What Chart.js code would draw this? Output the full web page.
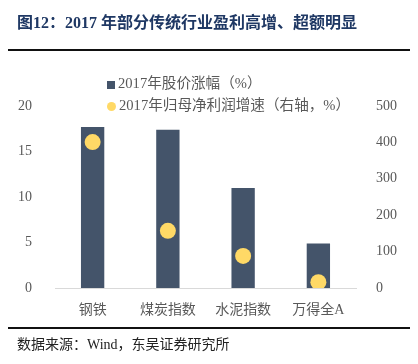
<!DOCTYPE html>
<html>
<head>
<meta charset="utf-8">
<script src="https://cdn.jsdelivr.net/npm/chart.js@4"></script>
<style>
  body { margin: 0; width: 418px; height: 364px; background: #fff; position: relative; overflow: hidden;
         font-family: "Liberation Serif", "Noto Sans CJK SC", serif; }
  #title { position: absolute; left: 17px; top: 9px; font-size: 16px; font-weight: bold; color: #1f3864; white-space: nowrap; }
  #topline { position: absolute; left: 8px; top: 49px; width: 402px; height: 2px; background: #111; }
  #botline { position: absolute; left: 8px; top: 327px; width: 402px; height: 2px; background: #111; }
  #source { position: absolute; left: 17px; top: 333px; font-size: 14px; color: #222; white-space: nowrap; }
  #chartBox { position: absolute; left: 0; top: 0; width: 418px; height: 364px; }
  .leg { position: absolute; left: 107px; font-size: 14.6px; color: #595959; white-space: nowrap; }
  .leg i { display: inline-block; vertical-align: middle; margin-right: 3px; }
</style>
</head>
<body>
<div id="chartBox"><canvas id="myChart" width="418" height="364"></canvas></div>
<div id="title">图12：2017 年部分传统行业盈利高增、超额明显</div>
<div id="topline"></div>
<div class="leg" style="top:71px"><i style="width:8px;height:8px;background:#44546a"></i>2017年股价涨幅（%）</div>
<div class="leg" style="top:93px"><i style="width:9px;height:9px;border-radius:50%;background:#ffd966"></i>2017年归母净利润增速（右轴，%）</div>
<div id="botline"></div>
<div id="source">数据来源：Wind，东吴证券研究所</div>
<script>
// categories and values
const industries = ["钢铁", "煤炭指数", "水泥指数", "万得全A"];
const priceGain = [17.7, 17.4, 11.0, 4.9];      // 2017年股价涨幅（%）
const profitGrowth = [401, 157, 88, 16];        // 2017年归母净利润增速（右轴，%）
const leftTicks = [0, 5, 10, 15, 20];
const rightTicks = [0, 100, 200, 300, 400, 500];

const labelFont = { family: '"Liberation Serif", "Noto Sans CJK SC", serif', size: 14 };

const ctx = document.getElementById('myChart').getContext('2d');
const myChart = new Chart(ctx, {
  data: {
    labels: industries,
    datasets: [
      {
        type: 'line',
        label: '2017年归母净利润增速（右轴，%）',
        data: profitGrowth,
        yAxisID: 'y1',
        showLine: false,
        pointRadius: 8,
        pointHoverRadius: 8,
        pointBackgroundColor: '#ffd966',
        pointBorderWidth: 0,
        order: 0
      },
      {
        type: 'bar',
        label: '2017年股价涨幅（%）',
        data: priceGain,
        yAxisID: 'y',
        backgroundColor: '#44546a',
        barPercentage: 0.31,
        categoryPercentage: 1,
        order: 1
      }
    ]
  },
  options: {
    responsive: false,
    animation: false,
    layout: { padding: { left: 0, right: 0, top: 106, bottom: 36 } },
    plugins: { legend: { display: false }, tooltip: { enabled: false } },
    scales: {
      x: {
        grid: { display: false },
        border: { display: true, color: '#d9d9d9', width: 1 },
        ticks: { color: '#595959', font: labelFont, padding: 6 },
        afterFit: s => { s.height = 40; }
      },
      y: {
        position: 'left',
        min: 0, max: 20,
        afterBuildTicks: s => { s.ticks = leftTicks.map(v => ({ value: v })); },
        grid: { display: false },
        border: { display: false },
        ticks: { color: '#595959', font: labelFont, padding: 15 },
        afterFit: s => { s.width = 55; }
      },
      y1: {
        position: 'right',
        min: 0, max: 500,
        afterBuildTicks: s => { s.ticks = rightTicks.map(v => ({ value: v })); },
        grid: { display: false },
        border: { display: false },
        ticks: { color: '#595959', font: labelFont, padding: 12 },
        afterFit: s => { s.width = 62; }
      }
    }
  }
});
</script>
</body>
</html>
